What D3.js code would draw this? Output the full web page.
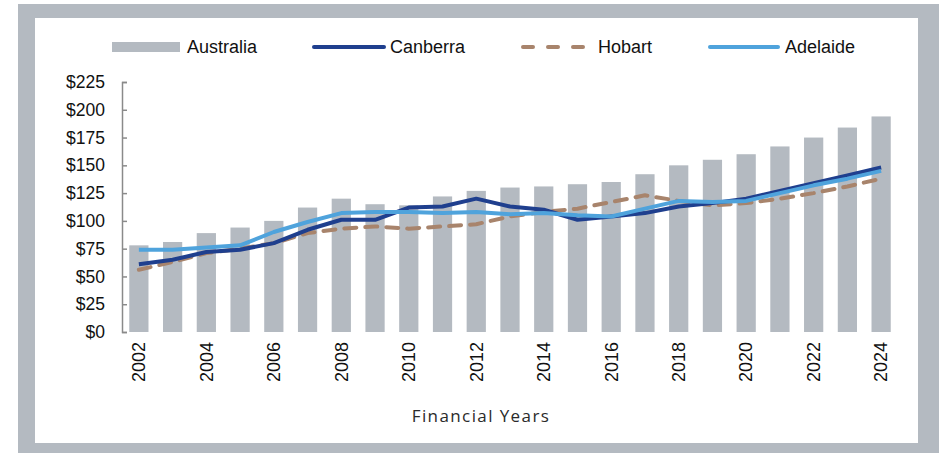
<!DOCTYPE html>
<html>
<head>
<meta charset="utf-8">
<script src="https://cdn.jsdelivr.net/npm/d3@7"></script>
<style>
  body { margin: 0; background: #fff; }
  svg { display: block; }
  text { font-family: "Liberation Sans", Arial, sans-serif; fill: #111; }
</style>
</head>
<body>
<script>
// dati
var years = d3.range(2002, 2025);
var australia = [78, 81, 89, 94, 100, 112, 120, 115, 114, 122, 127, 130, 131, 133, 135, 142, 150, 155, 160, 167, 175, 184, 194];
var canberra  = [61, 65, 72, 74, 80, 92, 101, 101, 112, 113, 120, 113, 110, 101, 104, 107, 113, 116, 120, 127, 134, 141, 148];
var hobart    = [56, 63, 71, 75, 80, 89, 93, 95, 93, 95, 97, 104, 108, 111, 117, 123, 118, 114, 116, 120, 125, 131, 138];
var adelaide  = [74, 74, 76, 78, 90, 99, 107, 108, 108, 107, 108, 106, 107, 105, 104, 111, 118, 117, 118, 125, 132, 138, 145];
var yTicks = [0, 25, 50, 75, 100, 125, 150, 175, 200, 225];
var xTickYears = d3.range(2002, 2025, 2);

var W = 944, H = 453;

var svg = d3.select("body").append("svg")
    .attr("width", W)
    .attr("height", H);

// cornice grigia
svg.append("rect").attr("x", 18).attr("y", 4).attr("width", 921).attr("height", 449).attr("fill", "#b4bac1");
svg.append("rect").attr("x", 35).attr("y", 18).attr("width", 883).attr("height", 425).attr("fill", "#fff");

var x = d3.scaleBand()
    .domain(years)
    .range([122, 898])
    .paddingInner(0.43)
    .paddingOuter(0.215);

var y = d3.scaleLinear()
    .domain([0, 225])
    .range([332, 82]);

// barre Australia
svg.append("g").selectAll("rect").data(australia).enter().append("rect")
    .attr("x", function (d, i) { return x(years[i]); })
    .attr("y", function (d) { return y(d); })
    .attr("width", x.bandwidth())
    .attr("height", function (d) { return y(0) - y(d); })
    .attr("fill", "#b4bac1");

// asse y
var yAxis = svg.append("g")
    .attr("transform", "translate(122,0)")
    .call(d3.axisLeft(y).tickValues(yTicks).tickSizeInner(-5).tickSizeOuter(-5).tickPadding(17)
        .tickFormat(function (d) { return "$" + d; }));
yAxis.selectAll("path, line").attr("stroke", "#8a8a8a").attr("stroke-width", 1.5);
yAxis.selectAll("text").attr("font-size", "17.5px").attr("font-family", "'Liberation Sans', Arial, sans-serif").attr("fill", "#111");

// asse x (solo etichette ruotate)
var xAxis = svg.append("g")
    .attr("transform", "translate(0,332)")
    .call(d3.axisBottom(x).tickValues(xTickYears).tickSize(0).tickPadding(0));
xAxis.select(".domain").remove();
xAxis.selectAll("text")
    .attr("font-size", "18px")
    .attr("font-family", "'Liberation Sans', Arial, sans-serif")
    .attr("fill", "#111")
    .attr("transform", "rotate(-90)")
    .attr("text-anchor", "end")
    .attr("x", -10)
    .attr("y", 0)
    .attr("dy", "0.35em");

svg.append("text")
    .attr("x", 481)
    .attr("y", 422)
    .attr("text-anchor", "middle")
    .attr("font-size", "17px")
    .style("font-family", "'Open Sans', 'Noto Sans', sans-serif")
    .style("letter-spacing", "1.4px")
    .style("fill", "#2a2a2a")
    .text("Financial Years");

// linee
var line = d3.line()
    .x(function (d, i) { return x(years[i]) + x.bandwidth() / 2; })
    .y(function (d) { return y(d); });

var series = [
    {name: "Hobart", values: hobart, color: "#a8846c", dash: "12,9"},
    {name: "Adelaide", values: adelaide, color: "#4fa3dc", dash: null},
    {name: "Canberra", values: canberra, color: "#1f3f8e", dash: null}
];
// ordine di disegno: Hobart, Canberra, Adelaide sopra
var drawOrder = [series[0], series[2], series[1]];
drawOrder.forEach(function (s) {
    svg.append("path")
        .datum(s.values)
        .attr("d", line)
        .attr("fill", "none")
        .attr("stroke", s.color)
        .attr("stroke-width", 4)
        .attr("stroke-linecap", s.dash ? "round" : "butt")
        .attr("stroke-linejoin", "round")
        .attr("stroke-dasharray", s.dash);
});

// legenda
var leg = svg.append("g");
leg.append("rect").attr("x", 112).attr("y", 42).attr("width", 68).attr("height", 10).attr("fill", "#b4bac1");
leg.append("text").attr("x", 187).attr("y", 53).attr("font-size", "18px").text("Australia");

leg.append("line").attr("x1", 314).attr("x2", 384).attr("y1", 47).attr("y2", 47)
    .attr("stroke", "#1f3f8e").attr("stroke-width", 4).attr("stroke-linecap", "round");
leg.append("text").attr("x", 390).attr("y", 53).attr("font-size", "18px").text("Canberra");

leg.append("line").attr("x1", 523).attr("x2", 593).attr("y1", 47).attr("y2", 47)
    .attr("stroke", "#a8846c").attr("stroke-width", 4).attr("stroke-linecap", "round")
    .attr("stroke-dasharray", "10,15");
leg.append("text").attr("x", 598).attr("y", 53).attr("font-size", "18px").text("Hobart");

leg.append("line").attr("x1", 710).attr("x2", 778).attr("y1", 47).attr("y2", 47)
    .attr("stroke", "#4fa3dc").attr("stroke-width", 4).attr("stroke-linecap", "round");
leg.append("text").attr("x", 785).attr("y", 53).attr("font-size", "18px").text("Adelaide");
</script>
</body>
</html>
